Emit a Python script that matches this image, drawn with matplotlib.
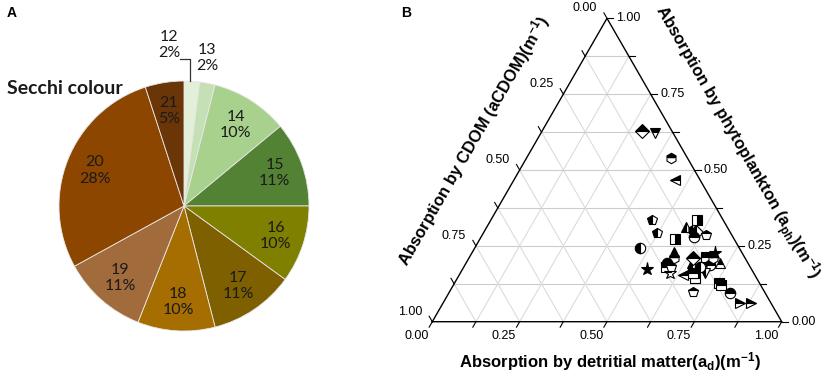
import matplotlib
matplotlib.use("Agg")
import matplotlib.pyplot as plt
import numpy as np

plt.rcParams['font.family'] = ['Liberation Sans', 'DejaVu Sans']
plt.rcParams['mathtext.default'] = 'regular'

# ---- panel A: Secchi colour classes (%)
secchi_class = ['12', '13', '14', '15', '16', '17', '18', '19', '20', '21']
secchi_pct = [2, 2, 10, 11, 10, 11, 10, 11, 28, 5]
secchi_colors = ['#e2f0d9', '#c5e0b4', '#a9d18e', '#548235', '#7f7f00',
                 '#7f6000', '#a66d00', '#a16b3c', '#8c4600', '#6a3607']

# ---- panel B: absorption fractions (detritus, CDOM, phytoplankton)
a_d = [0.285, 0.327, 0.414, 0.462, 0.462, 0.497, 0.473, 0.529, 0.589, 0.572,
       0.596, 0.606, 0.611, 0.640, 0.559, 0.578, 0.586, 0.575, 0.578, 0.599,
       0.646, 0.641, 0.676, 0.696, 0.727, 0.702, 0.680, 0.700, 0.680, 0.666,
       0.641, 0.676, 0.756, 0.767, 0.804, 0.699, 0.851, 0.880, 0.700, 0.592]
a_cdom = [0.086, 0.052, 0.047, 0.071, 0.203, 0.212, 0.285, 0.298, 0.076, 0.117,
          0.102, 0.097, 0.111, 0.074, 0.169, 0.193, 0.205, 0.233, 0.241, 0.239,
          0.162, 0.150, 0.110, 0.079, 0.081, 0.111, 0.139, 0.140, 0.177, 0.172,
          0.205, 0.143, 0.117, 0.112, 0.100, 0.204, 0.088, 0.057, 0.091, 0.227]
a_ph = [0.629, 0.621, 0.539, 0.467, 0.335, 0.291, 0.242, 0.173, 0.335, 0.311,
        0.302, 0.297, 0.278, 0.286, 0.272, 0.229, 0.209, 0.192, 0.181, 0.162,
        0.192, 0.209, 0.214, 0.225, 0.192, 0.187, 0.181, 0.160, 0.143, 0.162,
        0.154, 0.181, 0.127, 0.121, 0.096, 0.097, 0.061, 0.063, 0.209, 0.181]

# marker style per sample
pt_marker = ['D', 'v', 'h', '<', 'p', 'p', 'o', '*', 's', '^',
             'h', 'D', 'o', 'p', 's', '^', 'h', 'o', 's', '*',
             '^', 'D', 's', '*', '^', 'o', 'h', 'v', 's', 's',
             '<', 'o', 's', 's', 'o', 'p', '>', '>', 'h', 'p']
pt_fill = ['top', 'top', 'top', 'top', 'left', 'left', 'left', 'full', 'right', 'left',
           'left', 'left', 'top', 'top', 'right', 'top', 'top', 'top', 'top', 'none',
           'left', 'top', 'top', 'top', 'top', 'top', 'top', 'left', 'top', 'top',
           'top', 'left', 'top', 'top', 'top', 'top', 'top', 'top', 'top', 'top']

fig = plt.figure(figsize=(8.29, 3.77), dpi=100)

# ================= pie =================
ax1 = fig.add_axes([59/829, 46/377, 250/829, 250/377])
labels = ['' if c in ('12', '13') else f'{c}\n{p}%' for c, p in zip(secchi_class, secchi_pct)]
wedges, texts = ax1.pie(secchi_pct, colors=secchi_colors, startangle=90, counterclock=False,
                        labels=labels, labeldistance=0.77,
                        wedgeprops=dict(edgecolor='#e8e8e8', linewidth=0.6),
                        textprops=dict(ha='center', va='center', fontsize=11.5,
                                       family='Lato', color='#1a1a1a', linespacing=1.2))
ax1.set_xlim(-1, 1)
ax1.set_ylim(-1, 1)
ax1.axis('off')

# small slices labelled outside
w12 = wedges[0]
ang = np.deg2rad((w12.theta1 + w12.theta2) / 2)
ex, ey = np.cos(ang) * 0.8, np.sin(ang)
ax1.plot([ex - 0.08, ex, ex], [ey + 0.175, ey + 0.175, ey], color='#333333', lw=0.9, clip_on=False)
ax1.text(ex - 0.17, ey + 0.29, '12\n2%', ha='center', va='center', fontsize=11.5,
         family='Lato', color='#1a1a1a', linespacing=1.2, clip_on=False)
w13 = wedges[1]
ang = np.deg2rad((w13.theta1 + w13.theta2) / 2)
ax1.text(np.cos(ang), np.sin(ang) + 0.2, '13\n2%', ha='center', va='center', fontsize=11.5,
         family='Lato', color='#1a1a1a', linespacing=1.2, clip_on=False)

fig.text(7/829, 1 - 94/377, 'Secchi colour', fontsize=14, fontweight='bold', family='Lato',
         color='#1a1a1a', ha='left', va='baseline')
fig.text(7/829, 1 - 17/377, 'A', fontsize=10, fontweight='bold', ha='left', va='baseline')
fig.text(401/829, 1 - 17/377, 'B', fontsize=10, fontweight='bold', ha='left', va='baseline')

# ================= ternary =================
h = np.sqrt(3) / 2
ax2 = fig.add_axes([432.3/829, 55.3/377, 349.4/829, 303.4/377])
ax2.set_xlim(0, 1)
ax2.set_ylim(0, h)
ax2.axis('off')


def tern(d, p):
    d = np.asarray(d, dtype=float)
    p = np.asarray(p, dtype=float)
    return d + p / 2, p * h


# grid
for v in np.arange(0.125, 1.0, 0.125):
    # constant phytoplankton
    x, y = tern([0, 1 - v], [v, v])
    ax2.plot(x, y, color='#cccccc', lw=0.8, zorder=1)
    # constant detritus
    x, y = tern([v, v], [0, 1 - v])
    ax2.plot(x, y, color='#dcdcdc', lw=0.8, zorder=1)
    # constant CDOM
    x, y = tern([1 - v, 0], [0, 1 - v])
    ax2.plot(x, y, color='#dcdcdc', lw=0.8, zorder=1)

# frame
ax2.plot([0, 1, 0.5, 0], [0, 0, h, 0], color='black', lw=1.0, zorder=2, clip_on=False)

# ticks & labels
L = 0.018
for v in np.arange(0, 1.0001, 0.125):
    major = abs(v * 4 - round(v * 4)) < 1e-6
    # bottom (detritus)
    x0, y0 = tern(v, 0)
    ax2.plot([x0, x0 - 0.5 * L], [y0, y0 - h * L], color='black', lw=0.8, clip_on=False)
    # left (CDOM)
    x0, y0 = tern(0, 1 - v)
    ax2.plot([x0, x0 - 0.5 * L], [y0, y0 + h * L], color='black', lw=0.8, clip_on=False)
    # right (phytoplankton)
    x0, y0 = tern(1 - v, v)
    ax2.plot([x0, x0 + L], [y0, y0], color='black', lw=0.8, clip_on=False)
    if major:
        x0, y0 = tern(v, 0)
        ax2.text(x0 - 0.045, y0 - 0.04, f'{v:.2f}', ha='center', va='center', fontsize=9, clip_on=False)
        x0, y0 = tern(0, 1 - v)
        ax2.text(x0 - 0.063, y0 + 0.029, f'{v:.2f}', ha='center', va='center', fontsize=9, clip_on=False)
        x0, y0 = tern(1 - v, v)
        ax2.text(x0 + 0.027, y0, f'{v:.2f}', ha='left', va='center', fontsize=9, clip_on=False)

ax2.text(0.509, -0.1145, 'Absorption by detritial matter(a$_d$)(m$^{-1}$)', ha='center', va='center',
         fontsize=12, fontweight='bold', clip_on=False)
ax2.text(0.118, 0.516, 'Absorption by CDOM (aCDOM)(m$^{-1}$)', ha='center', va='center',
         rotation=60, rotation_mode='anchor', fontsize=12, fontweight='bold', clip_on=False)
ax2.text(0.871, 0.511, 'Absorption by phytoplankton (a$_{ph}$)(m$^{-1}$)', ha='center', va='center',
         rotation=-60, rotation_mode='anchor', fontsize=12, fontweight='bold', clip_on=False)

# data points
xs, ys = tern(a_d, a_ph)
for x, y, m, f in zip(xs, ys, pt_marker, pt_fill):
    ms = 9.5 if m == '*' else 7.5
    ax2.plot(x, y, marker=m, fillstyle=f, markersize=ms, markeredgecolor='black',
             markerfacecolor='black', markerfacecoloralt='white', markeredgewidth=0.8,
             linestyle='none', zorder=3, clip_on=False)

fig.savefig('out.png', dpi=100)
